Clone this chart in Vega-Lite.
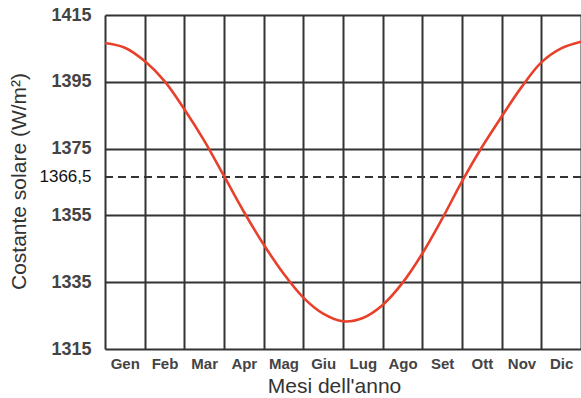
{
  "$schema": "https://vega.github.io/schema/vega-lite/v6.json",
  "width": 476,
  "height": 334,
  "autosize": {"type": "none"},
  "padding": {"left": 105, "top": 15, "right": 0, "bottom": 49},
  "background": "white",
  "config": {
    "view": {"stroke": null},
    "font": "Liberation Sans"
  },
  "layer": [
    {
      "data": {"values": [{"riferimento": 1366.5}]},
      "mark": {"type": "rule", "color": "#333333", "strokeWidth": 2, "strokeDash": [8, 5]},
      "encoding": {
        "y": {"field": "riferimento", "type": "quantitative", "scale": {"domain": [1315, 1415], "nice": false, "zero": false}}
      }
    },
    {
      "data": {
        "values": [
          {"mese": 0.0, "costante": 1406.6},
          {"mese": 0.5, "costante": 1405.2},
          {"mese": 1.0, "costante": 1401.2},
          {"mese": 1.5, "costante": 1395.2},
          {"mese": 2.0, "costante": 1386.8},
          {"mese": 2.5, "costante": 1377.4},
          {"mese": 3.0, "costante": 1366.8},
          {"mese": 3.5, "costante": 1356.1},
          {"mese": 4.0, "costante": 1346.3},
          {"mese": 4.5, "costante": 1337.6},
          {"mese": 5.0, "costante": 1330.4},
          {"mese": 5.5, "costante": 1325.6},
          {"mese": 6.0, "costante": 1323.3},
          {"mese": 6.5, "costante": 1324.3},
          {"mese": 7.0, "costante": 1328.2},
          {"mese": 7.5, "costante": 1334.8},
          {"mese": 8.0, "costante": 1343.6},
          {"mese": 8.5, "costante": 1354.0},
          {"mese": 9.0, "costante": 1365.2},
          {"mese": 9.5, "costante": 1375.4},
          {"mese": 10.0, "costante": 1384.6},
          {"mese": 10.5, "costante": 1393.4},
          {"mese": 11.0, "costante": 1400.8},
          {"mese": 11.5, "costante": 1405.0},
          {"mese": 12.0, "costante": 1407.0}
        ]
      },
      "mark": {"type": "line", "color": "#e8412b", "strokeWidth": 2.6, "interpolate": "catmull-rom"},
      "encoding": {
        "x": {
          "field": "mese",
          "type": "quantitative",
          "scale": {"domain": [0, 12], "nice": false, "zero": false},
          "axis": {
            "values": [0, 1, 2, 3, 4, 5, 6, 7, 8, 9, 10, 11, 12],
            "labelExpr": "datum.value < 12 ? ['Gen','Feb','Mar','Apr','Mag','Giu','Lug','Ago','Set','Ott','Nov','Dic'][datum.value] : ''",
            "labelOffset": 19.8,
            "labelFlush": false,
            "labelOverlap": false,
            "labelFontSize": 15,
            "labelFontWeight": "bold",
            "labelColor": "#444444",
            "labelPadding": 7,
            "labelBaseline": "top",
            "ticks": false,
            "domain": false,
            "grid": true,
            "gridColor": "#333333",
            "gridWidth": 2,
            "gridOpacity": 1,
            "title": "Mesi dell'anno",
            "titleFontSize": 21,
            "titleFontWeight": "normal",
            "titleColor": "#333333",
            "titleX": 229,
            "titleY": 37,
            "titleAlign": "center",
            "titleBaseline": "middle",
            "titleAnchor": null
          }
        },
        "y": {
          "field": "costante",
          "type": "quantitative",
          "scale": {"domain": [1315, 1415], "nice": false, "zero": false},
          "axis": {
            "values": [1315, 1335, 1355, 1366.5, 1375, 1395, 1415],
            "labelExpr": "replace(format(datum.value, '.1~f'), '.', ',')",
            "labelFontSize": {"condition": {"test": "datum.value == 1366.5", "value": 17}, "value": 18},
            "labelFontWeight": {"condition": {"test": "datum.value == 1366.5", "value": "normal"}, "value": "bold"},
            "labelColor": {"condition": {"test": "datum.value == 1366.5", "value": "#111111"}, "value": "#444444"},
            "labelPadding": 14,
            "labelOverlap": false,
            "labelFlush": false,
            "ticks": false,
            "domain": false,
            "grid": true,
            "gridColor": "#333333",
            "gridWidth": 2,
            "gridOpacity": {"condition": {"test": "datum.value == 1366.5", "value": 0}, "value": 1},
            "title": "Costante solare (W/m²)",
            "titleFontSize": 21,
            "titleFontWeight": "normal",
            "titleColor": "#333333",
            "titleAngle": -90,
            "titleX": -86,
            "titleY": 166,
            "titleAlign": "center",
            "titleBaseline": "middle",
            "titleAnchor": null
          }
        }
      }
    }
  ]
}
